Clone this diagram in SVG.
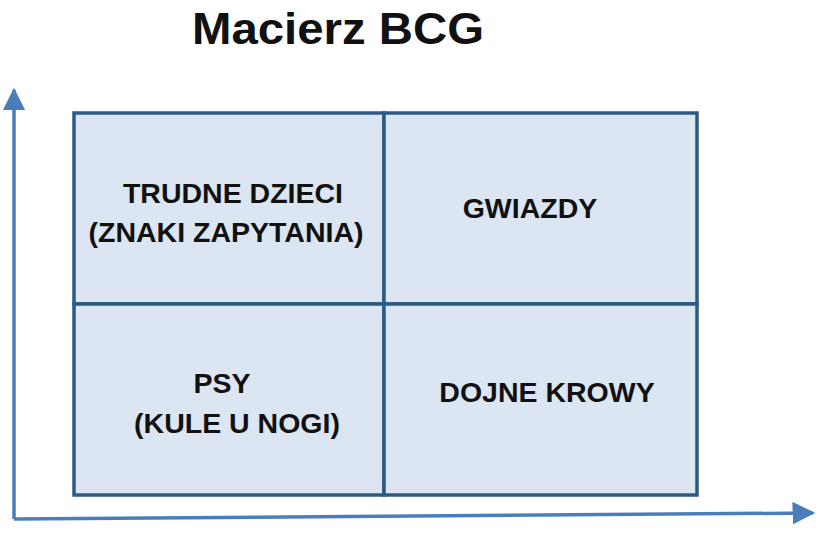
<svg xmlns="http://www.w3.org/2000/svg" width="829" height="533" viewBox="0 0 829 533">
<style>
.lbl{font-family:"Liberation Sans",Arial,sans-serif;font-weight:bold;font-size:28.5px;fill:#111;text-anchor:middle}
.cell{fill:#dce6f2;stroke:#2e5985;stroke-width:3.5}
.axis{stroke:#4a7ebb;stroke-width:3.5;fill:none}
</style>
<defs>
<marker id="ah" viewBox="0 0 10 10" refX="9" refY="5" markerWidth="6.5" markerHeight="6.5" orient="auto" markerUnits="strokeWidth">
<path d="M0,0 L10,5 L0,10 z" fill="#4a7ebb"/>
</marker>
</defs>
<rect width="829" height="533" fill="#fff"/>
<text x="338" y="44" font-family="'Liberation Sans',Arial,sans-serif" font-weight="bold" font-size="45" fill="#111" text-anchor="middle" textLength="292" lengthAdjust="spacingAndGlyphs">Macierz BCG</text>
<g id="connectors">
<path class="axis" d="M14,519 L14,90" marker-end="url(#ah)"/>
<path class="axis" d="M14,519 L813,513" marker-end="url(#ah)"/>
</g>
<g id="q1"><rect class="cell" x="74" y="113" width="310" height="191"/>
<text class="lbl" x="233" y="203">TRUDNE DZIECI</text>
<text class="lbl" x="226" y="242">(ZNAKI ZAPYTANIA)</text></g>
<g id="q2"><rect class="cell" x="384" y="113" width="313" height="191"/>
<text class="lbl" x="530" y="218">GWIAZDY</text></g>
<g id="q3"><rect class="cell" x="74" y="304" width="310" height="191"/>
<text class="lbl" x="222" y="393">PSY</text>
<text class="lbl" x="237" y="433">(KULE U NOGI)</text></g>
<g id="q4"><rect class="cell" x="384" y="304" width="313" height="191"/>
<text class="lbl" x="547" y="402">DOJNE KROWY</text></g>
</svg>
